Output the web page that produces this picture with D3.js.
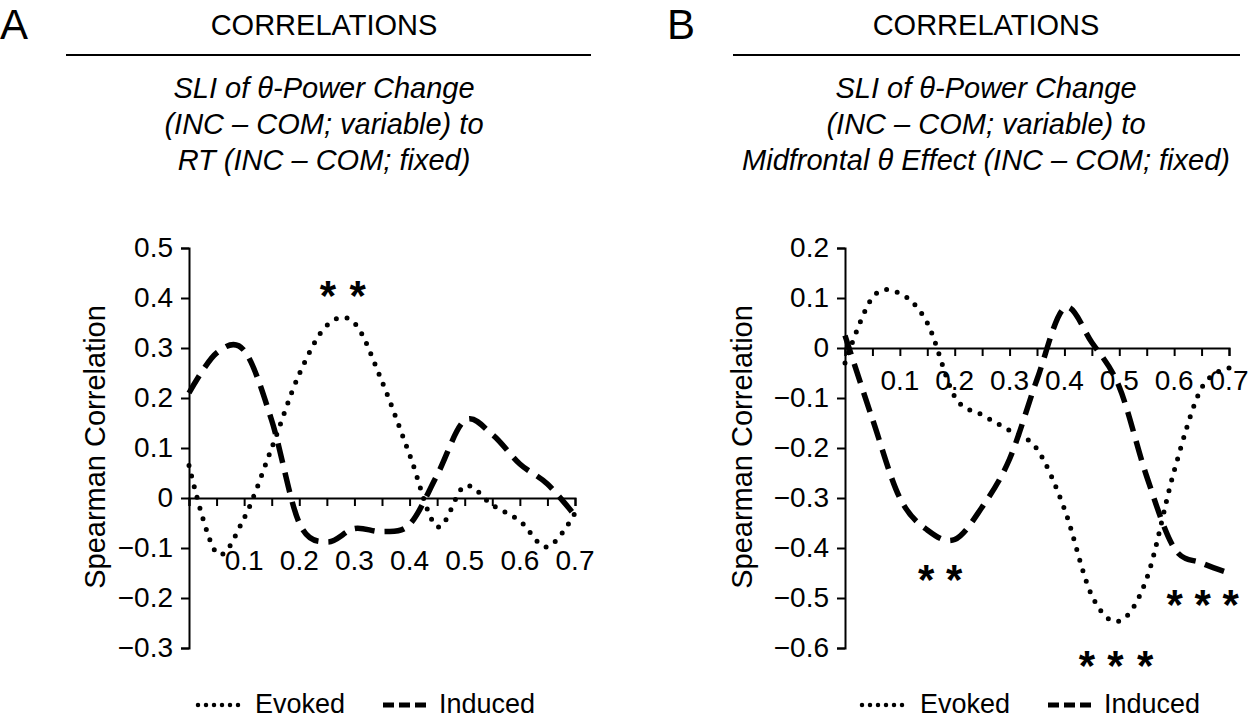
<!DOCTYPE html>
<html><head><meta charset="utf-8">
<script src="https://cdn.jsdelivr.net/npm/d3@7"></script>
<style>body{margin:0;background:#fff}svg{display:block;font-family:"Liberation Sans",Arial,sans-serif}</style>
</head><body>
<svg id="chart" width="1253" height="719"></svg>
<script>
// ---------- data ----------
const xValues = [0,0.05,0.1,0.15,0.2,0.25,0.3,0.35,0.4,0.45,0.5,0.55,0.6,0.65,0.7];
const xTickLabels = ["0.1","0.2","0.3","0.4","0.5","0.6","0.7"];
const seriesNames = ["Evoked","Induced"];

const evokedA  = [0.065,-0.11,-0.04,0.10,0.248,0.345,0.35,0.233,0.087,-0.057,0.024,-0.014,-0.046,-0.098,-0.03];
const inducedA = [0.21,0.29,0.295,0.155,-0.05,-0.088,-0.061,-0.067,-0.053,0.046,0.155,0.127,0.068,0.028,-0.035];
const yTicksA  = [0.5,0.4,0.3,0.2,0.1,0,-0.1,-0.2,-0.3];
const starsA   = [{x:0.252,y:0.42},{x:0.306,y:0.42}];

const evokedB  = [-0.03,0.101,0.109,0.05,-0.097,-0.134,-0.165,-0.202,-0.322,-0.495,-0.546,-0.461,-0.246,-0.08,-0.04];
const inducedB = [0.025,-0.142,-0.3,-0.364,-0.383,-0.318,-0.222,-0.063,0.08,0.011,-0.078,-0.257,-0.4,-0.43,-0.45];
const yTicksB  = [0.2,0.1,0,-0.1,-0.2,-0.3,-0.4,-0.5,-0.6];
const starsB   = [{x:0.148,y:-0.447},{x:0.199,y:-0.447},
                  {x:0.601,y:-0.498},{x:0.652,y:-0.498},{x:0.703,y:-0.498},
                  {x:0.441,y:-0.62},{x:0.493,y:-0.62},{x:0.547,y:-0.62}];

const titleMain = "CORRELATIONS";
const subA = ["SLI of \u03B8-Power Change","(INC \u2013 COM; variable) to","RT (INC \u2013 COM; fixed)"];
const subB = ["SLI of \u03B8-Power Change","(INC \u2013 COM; variable) to","Midfrontal \u03B8 Effect (INC \u2013  COM; fixed)"];
const yLabel = "Spearman Correlation";

// ---------- drawing ----------
const svg = d3.select("#chart");
const DOT = {w:5, dash:"0 11", cap:"round"};
const DASH = {w:5.5, dash:"20 10", cap:"butt"};

function panel(o){
  const g = svg.append("g");
  const x = d3.scaleLinear().domain([0,0.7]).range([o.x0,o.x1]);
  const y = d3.scaleLinear().domain(o.yDomain).range([o.yTop,o.yBot]);

  // letter
  g.append("text").attr("x",o.letterX).attr("y",39).attr("font-size",42).text(o.letter);
  // header
  g.append("text").attr("x",o.cx).attr("y",35).attr("text-anchor","middle").attr("font-size",29).text(titleMain);
  g.append("line").attr("x1",o.lx0).attr("x2",o.lx1).attr("y1",55).attr("y2",55).attr("stroke","#000").attr("stroke-width",2);
  o.sub.forEach((s,i)=>g.append("text").attr("x",o.cx).attr("y",98+i*36).attr("text-anchor","middle")
     .attr("font-size",29).attr("font-style","italic").text(s));

  // y axis
  const ya = g.append("g").attr("transform",`translate(${o.x0},0)`)
    .call(d3.axisLeft(y).tickValues(o.yTicks).tickSize(8).tickPadding(8)
      .tickFormat(d=> d===0 ? "0" : d3.format(".1f")(d).replace("-","\u2212")));
  ya.select(".domain").attr("stroke-width",2);
  ya.selectAll(".tick line").attr("stroke-width",2);
  ya.selectAll("text").attr("font-size",28).attr("font-family","'Liberation Sans',Arial,sans-serif");

  // x axis at zero
  const xt = d3.range(0,15).map(i=>i*0.05);
  const xa = g.append("g").attr("transform",`translate(0,${y(0)})`)
    .call(d3.axisBottom(x).tickValues(xt).tickSize(8).tickFormat(""));
  xa.select(".domain").attr("stroke-width",2);
  xa.selectAll(".tick line").attr("stroke-width",2);
  g.selectAll(null).data(xTickLabels).enter().append("text")
    .attr("x",d=>x(+d)).attr("y",o.xLabY).attr("text-anchor","middle").attr("font-size",28).text(d=>d);

  // y label
  g.append("text").attr("transform",`translate(${o.ylx},447) rotate(-90)`).attr("text-anchor","middle")
    .attr("dominant-baseline","central").attr("font-size",29).text(yLabel);

  // lines
  const line = d3.line().x((d,i)=>x(xValues[i])).y(d=>y(d)).curve(d3.curveCardinal.tension(0));
  [[o.evoked,DOT],[o.induced,DASH]].forEach(([vals,st])=>{
    g.append("path").attr("d",line(vals)).attr("fill","none").attr("stroke","#000")
     .attr("stroke-width",st.w).attr("stroke-dasharray",st.dash).attr("stroke-linecap",st.cap);
  });

  // stars
  g.selectAll(null).data(o.stars).enter().append("text")
    .attr("x",d=>x(d.x)).attr("y",d=>y(d.y)+22).attr("text-anchor","middle")
    .attr("font-size",42).attr("font-weight","bold").text("*");

  // legend
  const ly = 705;
  g.append("line").attr("x1",o.leg[0]).attr("x2",o.leg[0]+43).attr("y1",ly).attr("y2",ly)
    .attr("stroke","#000").attr("stroke-width",4.5).attr("stroke-dasharray","0 8").attr("stroke-linecap","round");
  g.append("text").attr("x",o.leg[1]).attr("y",713).attr("font-size",27).text(seriesNames[0]);
  g.append("line").attr("x1",o.leg[2]).attr("x2",o.leg[2]+43).attr("y1",ly).attr("y2",ly)
    .attr("stroke","#000").attr("stroke-width",5).attr("stroke-dasharray","11 5");
  g.append("text").attr("x",o.leg[3]).attr("y",713).attr("font-size",27).text(seriesNames[1]);
}

panel({letter:"A",letterX:0,cx:324,lx0:66,lx1:591,sub:subA,x0:189,x1:575,yDomain:[0.5,-0.3],yTop:248,yBot:648,
  yTicks:yTicksA,xLabY:570,ylx:95,evoked:evokedA,induced:inducedA,stars:starsA,leg:[198,255,383,439]});
panel({letter:"B",letterX:667,cx:986,lx0:733,lx1:1240,sub:subB,x0:845,x1:1229,yDomain:[0.2,-0.6],yTop:248,yBot:648,
  yTicks:yTicksB,xLabY:390,ylx:742,evoked:evokedB,induced:inducedB,stars:starsB,leg:[862,920,1048,1104]});
</script>
</body></html>
